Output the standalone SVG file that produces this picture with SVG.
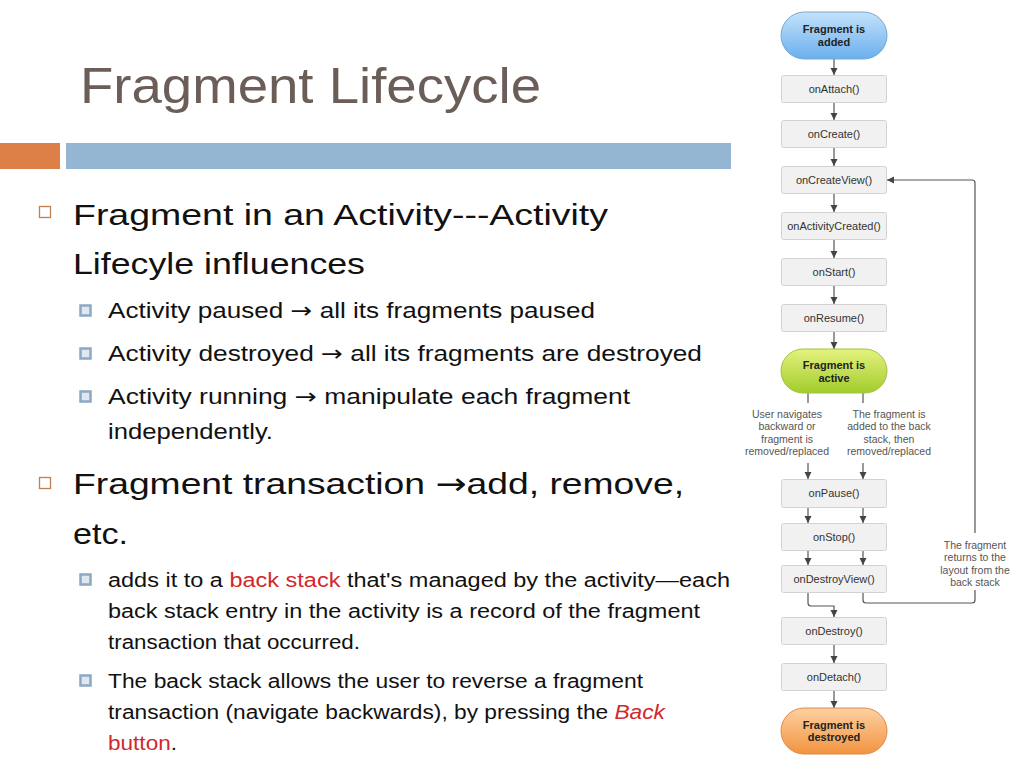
<svg xmlns="http://www.w3.org/2000/svg" width="1024" height="768" viewBox="0 0 1024 768">
<style>
.t{font-family:"Liberation Sans","DejaVu Sans",sans-serif;fill:#111}
.h1{font-size:30px}
.h2{font-size:22px}
.h3{font-size:20px}
.ar{font-family:"DejaVu Sans",sans-serif}
.red{fill:#d2282c}
.box{fill:#f1f1f1;stroke:#d2d2d2;stroke-width:1}
.bt{font-family:"Liberation Sans",Arial,sans-serif;font-size:11px;fill:#333;text-anchor:middle}
.pt{font-family:"Liberation Sans",Arial,sans-serif;font-size:11px;font-weight:bold;fill:#222;text-anchor:middle}
.lt{font-family:"Liberation Sans",Arial,sans-serif;font-size:10.5px;fill:#555;text-anchor:middle}
.c{fill:none;stroke:#555;stroke-width:1.2}
.sb{fill:#dfe8f0;stroke:#8da8c2;stroke-width:2.5}
.mb{fill:#fff;stroke:#c0804f;stroke-width:1.3}
</style>
<defs>
<marker id="ah" markerWidth="8" markerHeight="8" refX="7" refY="4" orient="auto" markerUnits="userSpaceOnUse">
<path d="M0,0.5 L7,4 L0,7.5 z" fill="#444"/>
</marker>
<linearGradient id="gb" x1="0" y1="0" x2="0" y2="1"><stop offset="0" stop-color="#c4e2fa"/><stop offset="1" stop-color="#6aafee"/></linearGradient>
<linearGradient id="gg" x1="0" y1="0" x2="0" y2="1"><stop offset="0" stop-color="#e4f27e"/><stop offset="1" stop-color="#a2cc2c"/></linearGradient>
<linearGradient id="go" x1="0" y1="0" x2="0" y2="1"><stop offset="0" stop-color="#fdd0a0"/><stop offset="1" stop-color="#f29440"/></linearGradient>
</defs>

<g id="header">
<text class="t" x="80" y="103" font-size="50" style="fill:#6b5d57" textLength="461" lengthAdjust="spacingAndGlyphs">Fragment Lifecycle</text>
<rect x="0" y="143" width="60" height="26" fill="#dd8047"/>
<rect x="66" y="143" width="665" height="26" fill="#94b6d2"/>
</g>

<g id="bullets">
<rect class="mb" x="39.5" y="206.5" width="11" height="11"/>
<text class="t h1" x="73" y="225" textLength="535" lengthAdjust="spacingAndGlyphs">Fragment in an Activity---Activity</text>
<text class="t h1" x="73" y="274" textLength="292" lengthAdjust="spacingAndGlyphs">Lifecyle influences</text>

<rect class="sb" x="80.5" y="305.5" width="10" height="10"/>
<text class="t h2" x="108" y="318" textLength="487" lengthAdjust="spacingAndGlyphs">Activity paused <tspan class="ar">→</tspan> all its fragments paused</text>
<rect class="sb" x="80.5" y="348.5" width="10" height="10"/>
<text class="t h2" x="108" y="361" textLength="594" lengthAdjust="spacingAndGlyphs">Activity destroyed <tspan class="ar">→</tspan> all its fragments are destroyed</text>
<rect class="sb" x="80.5" y="391.5" width="10" height="10"/>
<text class="t h2" x="108" y="404" textLength="522" lengthAdjust="spacingAndGlyphs">Activity running  <tspan class="ar">→</tspan> manipulate each fragment</text>
<text class="t h2" x="108" y="439" textLength="165" lengthAdjust="spacingAndGlyphs">independently.</text>

<rect class="mb" x="39.5" y="477.5" width="11" height="11"/>
<text class="t h1" x="73" y="494" textLength="611" lengthAdjust="spacingAndGlyphs">Fragment transaction <tspan class="ar">→</tspan>add, remove,</text>
<text class="t h1" x="73" y="544" textLength="55" lengthAdjust="spacingAndGlyphs">etc.</text>

<rect class="sb" x="80.5" y="574.5" width="10" height="10"/>
<text class="t h3" x="108" y="587" textLength="622" lengthAdjust="spacingAndGlyphs">adds it to a <tspan class="red">back stack</tspan> that's managed by the activity—each</text>
<text class="t h3" x="108" y="618" textLength="592" lengthAdjust="spacingAndGlyphs">back stack entry in the activity is a record of the fragment</text>
<text class="t h3" x="108" y="649" textLength="252" lengthAdjust="spacingAndGlyphs">transaction that occurred.</text>
<rect class="sb" x="80.5" y="675.5" width="10" height="10"/>
<text class="t h3" x="108" y="688" textLength="535" lengthAdjust="spacingAndGlyphs">The back stack allows the user to reverse a fragment</text>
<text class="t h3" x="108" y="719" textLength="557" lengthAdjust="spacingAndGlyphs">transaction (navigate backwards), by pressing the <tspan class="red" font-style="italic">Back</tspan></text>
<text class="t h3" x="108" y="750" textLength="69" lengthAdjust="spacingAndGlyphs"><tspan class="red">button</tspan>.</text>
</g>

<g id="connectors">
<line class="c" x1="834" y1="59" x2="834" y2="75" marker-end="url(#ah)"/>
<line class="c" x1="834" y1="102" x2="834" y2="120" marker-end="url(#ah)"/>
<line class="c" x1="834" y1="148" x2="834" y2="166" marker-end="url(#ah)"/>
<line class="c" x1="834" y1="194" x2="834" y2="212" marker-end="url(#ah)"/>
<line class="c" x1="834" y1="239" x2="834" y2="258" marker-end="url(#ah)"/>
<line class="c" x1="834" y1="286" x2="834" y2="304" marker-end="url(#ah)"/>
<line class="c" x1="834" y1="331" x2="834" y2="349" marker-end="url(#ah)"/>
<line class="c" x1="808" y1="393" x2="808" y2="403"/>
<line class="c" x1="863" y1="393" x2="863" y2="403"/>
<line class="c" x1="808" y1="463" x2="808" y2="479" marker-end="url(#ah)"/>
<line class="c" x1="863" y1="463" x2="863" y2="479" marker-end="url(#ah)"/>
<line class="c" x1="808" y1="508" x2="808" y2="523" marker-end="url(#ah)"/>
<line class="c" x1="863" y1="508" x2="863" y2="523" marker-end="url(#ah)"/>
<line class="c" x1="808" y1="551" x2="808" y2="565" marker-end="url(#ah)"/>
<line class="c" x1="863" y1="551" x2="863" y2="565" marker-end="url(#ah)"/>
<path class="c" d="M808,593 V603 Q808,606 811,606 H834 V617" marker-end="url(#ah)"/>
<path class="c" d="M863,593 V600 Q863,603 866,603 H972 Q975,603 975,600 V590"/>
<path class="c" d="M975,533 V183 Q975,180 972,180 H887" marker-end="url(#ah)"/>
<line class="c" x1="834" y1="645" x2="834" y2="663" marker-end="url(#ah)"/>
<line class="c" x1="834" y1="690" x2="834" y2="708" marker-end="url(#ah)"/>
</g>

<g id="n-added">
<rect x="781" y="12" width="106" height="47" rx="23.5" fill="url(#gb)" stroke="#79a6d4"/>
<text class="pt" x="834" y="33">Fragment is</text>
<text class="pt" x="834" y="46">added</text>
</g>
<g id="n-onAttach"><rect class="box" x="781.5" y="75.5" width="105" height="27" rx="2"/><text class="bt" x="834" y="93">onAttach()</text></g>
<g id="n-onCreate"><rect class="box" x="781.5" y="120.5" width="105" height="27" rx="2"/><text class="bt" x="834" y="138">onCreate()</text></g>
<g id="n-onCreateView"><rect class="box" x="781.5" y="166.5" width="105" height="27" rx="2"/><text class="bt" x="834" y="184">onCreateView()</text></g>
<g id="n-onActivityCreated"><rect class="box" x="781.5" y="212.5" width="105" height="27" rx="2"/><text class="bt" x="834" y="230">onActivityCreated()</text></g>
<g id="n-onStart"><rect class="box" x="781.5" y="258.5" width="105" height="27" rx="2"/><text class="bt" x="834" y="276">onStart()</text></g>
<g id="n-onResume"><rect class="box" x="781.5" y="304.5" width="105" height="27" rx="2"/><text class="bt" x="834" y="322">onResume()</text></g>
<g id="n-active">
<rect x="781" y="349" width="106" height="44" rx="22" fill="url(#gg)" stroke="#a2c244"/>
<text class="pt" x="834" y="369">Fragment is</text>
<text class="pt" x="834" y="382">active</text>
</g>
<g id="l-user">
<text class="lt" x="787" y="418">User navigates</text>
<text class="lt" x="787" y="430">backward or</text>
<text class="lt" x="787" y="443">fragment is</text>
<text class="lt" x="787" y="455">removed/replaced</text>
</g>
<g id="l-backstack">
<text class="lt" x="889" y="418">The fragment is</text>
<text class="lt" x="889" y="430">added to the back</text>
<text class="lt" x="889" y="443">stack, then</text>
<text class="lt" x="889" y="455">removed/replaced</text>
</g>
<g id="n-onPause"><rect class="box" x="781.5" y="479.5" width="105" height="28" rx="2"/><text class="bt" x="834" y="497">onPause()</text></g>
<g id="n-onStop"><rect class="box" x="781.5" y="523.5" width="105" height="27" rx="2"/><text class="bt" x="834" y="541">onStop()</text></g>
<g id="n-onDestroyView"><rect class="box" x="781.5" y="565.5" width="105" height="27" rx="2"/><text class="bt" x="834" y="583">onDestroyView()</text></g>
<g id="l-returns">
<text class="lt" x="975" y="549">The fragment</text>
<text class="lt" x="975" y="561">returns to the</text>
<text class="lt" x="975" y="574">layout from the</text>
<text class="lt" x="975" y="586">back stack</text>
</g>
<g id="n-onDestroy"><rect class="box" x="781.5" y="617.5" width="105" height="27" rx="2"/><text class="bt" x="834" y="635">onDestroy()</text></g>
<g id="n-onDetach"><rect class="box" x="781.5" y="663.5" width="105" height="27" rx="2"/><text class="bt" x="834" y="681">onDetach()</text></g>
<g id="n-destroyed">
<rect x="781" y="708" width="106" height="46" rx="23" fill="url(#go)" stroke="#e0894a"/>
<text class="pt" x="834" y="729">Fragment is</text>
<text class="pt" x="834" y="741">destroyed</text>
</g>
</svg>
